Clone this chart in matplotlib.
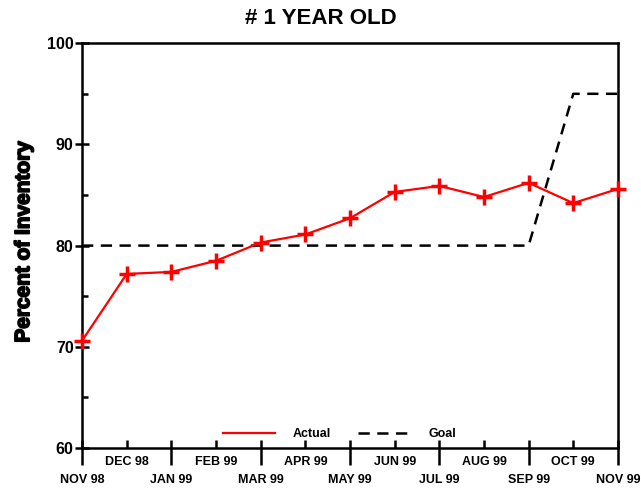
import matplotlib
matplotlib.use("Agg")
import matplotlib.pyplot as plt
import matplotlib.patheffects as pe

months = ["NOV 98", "DEC 98", "JAN 99", "FEB 99", "MAR 99", "APR 99", "MAY 99",
          "JUN 99", "JUL 99", "AUG 99", "SEP 99", "OCT 99", "NOV 99"]
actual = [70.6, 77.2, 77.4, 78.5, 80.3, 81.1, 82.7, 85.3, 85.9, 84.8, 86.2, 84.2, 85.6]
goal = [80, 80, 80, 80, 80, 80, 80, 80, 80, 80, 80, 95, 95]

plt.rcParams["font.family"] = ["Liberation Sans", "DejaVu Sans"]
plt.rcParams["font.weight"] = "bold"

fig = plt.figure(figsize=(6.41, 4.91), dpi=100)
ax = fig.add_axes([0.128, 0.0876, 0.836, 0.8244])

x = list(range(len(months)))
ax.plot(x, actual, color="red", lw=1.6, marker="+", ms=11, mew=2.5,
        label="Actual", clip_on=False, zorder=3)
ax.plot(x, goal, color="black", lw=1.8, dashes=(4.5, 3),
        label="Goal", zorder=2)

ax.set_xlim(0, 12)
ax.set_ylim(60, 100)

for s in ax.spines.values():
    s.set_linewidth(1.8)

# x axis: odd months on lower row, even months on upper row
ax.xaxis.remove_overlapping_locs = False
ax.set_xticks(x[::2])
ax.set_xticklabels(months[::2])
ax.set_xticks(x, minor=True)
ax.set_xticklabels(["" if i % 2 == 0 else m for i, m in enumerate(months)], minor=True)
ax.tick_params(axis="x", which="major", direction="out", length=12.5, width=1.8,
               pad=6.5, labelsize=9)
ax.tick_params(axis="x", which="minor", direction="in", length=6, width=1.8,
               pad=6, labelsize=9)

ax.set_yticks([60, 70, 80, 90, 100])
ax.set_yticks([65, 75, 85, 95], minor=True)
ax.tick_params(axis="y", which="major", direction="inout", length=10, width=1.8,
               pad=1, labelsize=11.5)
ax.tick_params(axis="y", which="minor", direction="in", length=4, width=1.8)

for lab in ax.get_xticklabels(which="both") + ax.get_yticklabels():
    lab.set_fontweight("bold")

fig.text(0.5, 0.963, "# 1 YEAR OLD", ha="center", va="center",
         fontsize=16, fontweight="bold")
fig.text(0.037, 0.508, "Percent of Inventory", rotation=90, ha="center",
         va="center", fontsize=15, fontweight="heavy",
         path_effects=[pe.withStroke(linewidth=1.2, foreground="black")])

ax.legend(loc="lower center", bbox_to_anchor=(0.48, -0.008), ncol=2, frameon=False,
          handlelength=4.2, handletextpad=1.4, columnspacing=2.2,
          prop={"size": 9, "weight": "bold"}, markerscale=0)

fig.savefig("out.png", dpi=100)
